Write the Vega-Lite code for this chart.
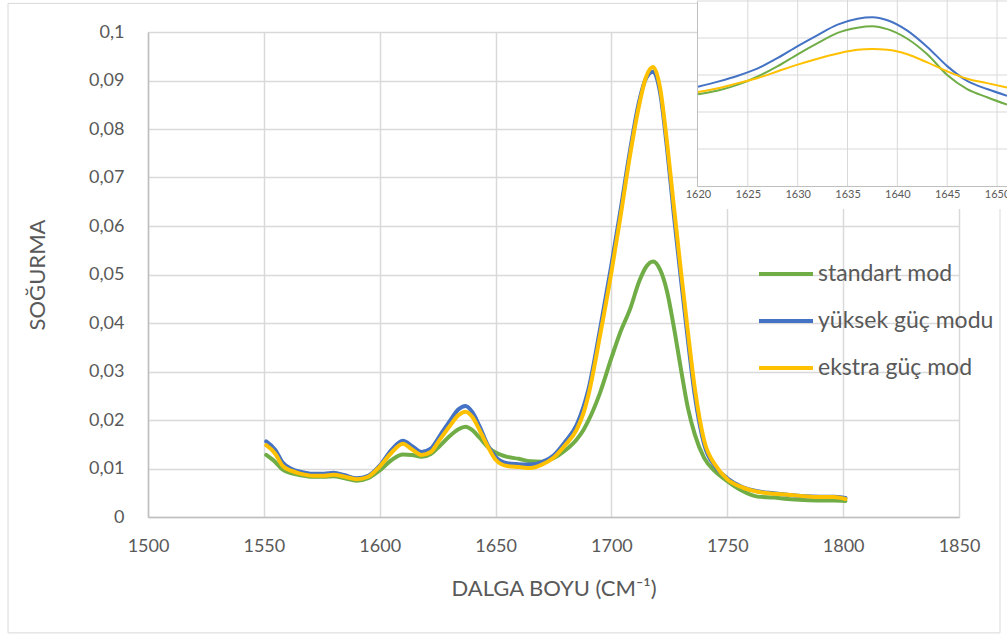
{
  "$schema": "https://vega.github.io/schema/vega-lite/v6.json",
  "width": 811,
  "height": 485,
  "autosize": "none",
  "padding": {"left": 148, "top": 32, "right": 48, "bottom": 120},
  "background": "white",
  "config": {
    "font": "Lato",
    "view": {"stroke": null},
    "axis": {"labelFont": "Lato", "titleFont": "Lato", "labelColor": "#595959", "titleColor": "#595959", "titleFontWeight": "normal"},
    "legend": {"labelFont": "Lato"}
  },
  "datasets": {
    "ana": [
      {"dalga": 1551, "standart mod": 0.0128, "yüksek güç modu": 0.0156, "ekstra güç mod": 0.0148},
      {"dalga": 1555, "standart mod": 0.0113, "yüksek güç modu": 0.0138, "ekstra güç mod": 0.0130},
      {"dalga": 1558, "standart mod": 0.0098, "yüksek güç modu": 0.0113, "ekstra güç mod": 0.0106},
      {"dalga": 1562, "standart mod": 0.0090, "yüksek güç modu": 0.0099, "ekstra güç mod": 0.0095},
      {"dalga": 1566, "standart mod": 0.0086, "yüksek güç modu": 0.0093, "ekstra güç mod": 0.0089},
      {"dalga": 1571, "standart mod": 0.0083, "yüksek güç modu": 0.0089, "ekstra güç mod": 0.0085},
      {"dalga": 1576, "standart mod": 0.0083, "yüksek güç modu": 0.0089, "ekstra güç mod": 0.0085},
      {"dalga": 1580, "standart mod": 0.0084, "yüksek güç modu": 0.0091, "ekstra güç mod": 0.0087},
      {"dalga": 1585, "standart mod": 0.0080, "yüksek güç modu": 0.0086, "ekstra güç mod": 0.0083},
      {"dalga": 1590, "standart mod": 0.0075, "yüksek güç modu": 0.0080, "ekstra güç mod": 0.0078},
      {"dalga": 1595, "standart mod": 0.0080, "yüksek güç modu": 0.0085, "ekstra güç mod": 0.0083},
      {"dalga": 1600, "standart mod": 0.0096, "yüksek güç modu": 0.0106, "ekstra güç mod": 0.0104},
      {"dalga": 1605, "standart mod": 0.0117, "yüksek güç modu": 0.0138, "ekstra güç mod": 0.0132},
      {"dalga": 1610, "standart mod": 0.0129, "yüksek güç modu": 0.0157, "ekstra güç mod": 0.0151},
      {"dalga": 1614, "standart mod": 0.0128, "yüksek güç modu": 0.0146, "ekstra güç mod": 0.0139},
      {"dalga": 1618, "standart mod": 0.0124, "yüksek güç modu": 0.0134, "ekstra güç mod": 0.0128},
      {"dalga": 1622, "standart mod": 0.0130, "yüksek güç modu": 0.0141, "ekstra güç mod": 0.0134},
      {"dalga": 1626, "standart mod": 0.0147, "yüksek güç modu": 0.0168, "ekstra güç mod": 0.0160},
      {"dalga": 1630, "standart mod": 0.0166, "yüksek güç modu": 0.0196, "ekstra güç mod": 0.0186},
      {"dalga": 1634, "standart mod": 0.0181, "yüksek güç modu": 0.0222, "ekstra güç mod": 0.0210},
      {"dalga": 1637, "standart mod": 0.0186, "yüksek güç modu": 0.0229, "ekstra güç mod": 0.0217},
      {"dalga": 1640, "standart mod": 0.0179, "yüksek güç modu": 0.0216, "ekstra güç mod": 0.0206},
      {"dalga": 1643, "standart mod": 0.0164, "yüksek güç modu": 0.0188, "ekstra güç mod": 0.0180},
      {"dalga": 1647, "standart mod": 0.0143, "yüksek güç modu": 0.0145, "ekstra güç mod": 0.0142},
      {"dalga": 1650, "standart mod": 0.0133, "yüksek güç modu": 0.0124, "ekstra güç mod": 0.0118},
      {"dalga": 1655, "standart mod": 0.0124, "yüksek güç modu": 0.0111, "ekstra güç mod": 0.0105},
      {"dalga": 1660, "standart mod": 0.0120, "yüksek güç modu": 0.0109, "ekstra güç mod": 0.0103},
      {"dalga": 1665, "standart mod": 0.0115, "yüksek güç modu": 0.0108, "ekstra güç mod": 0.0101},
      {"dalga": 1670, "standart mod": 0.0114, "yüksek güç modu": 0.0113, "ekstra güç mod": 0.0108},
      {"dalga": 1675, "standart mod": 0.0121, "yüksek güç modu": 0.0127, "ekstra güç mod": 0.0122},
      {"dalga": 1680, "standart mod": 0.0137, "yüksek güç modu": 0.0155, "ekstra güç mod": 0.0148},
      {"dalga": 1685, "standart mod": 0.0160, "yüksek güç modu": 0.0190, "ekstra güç mod": 0.0180},
      {"dalga": 1688, "standart mod": 0.0180, "yüksek güç modu": 0.0228, "ekstra güç mod": 0.0215},
      {"dalga": 1690, "standart mod": 0.0198, "yüksek güç modu": 0.0262, "ekstra güç mod": 0.0250},
      {"dalga": 1695, "standart mod": 0.0255, "yüksek güç modu": 0.0385, "ekstra güç mod": 0.0372},
      {"dalga": 1700, "standart mod": 0.0328, "yüksek güç modu": 0.0520, "ekstra güç mod": 0.0505},
      {"dalga": 1704, "standart mod": 0.0383, "yüksek güç modu": 0.0635, "ekstra güç mod": 0.0622},
      {"dalga": 1708, "standart mod": 0.0428, "yüksek güç modu": 0.0755, "ekstra güç mod": 0.0745},
      {"dalga": 1712, "standart mod": 0.0486, "yüksek güç modu": 0.0858, "ekstra güç mod": 0.0850},
      {"dalga": 1715, "standart mod": 0.0516, "yüksek güç modu": 0.0905, "ekstra güç mod": 0.0908},
      {"dalga": 1718, "standart mod": 0.0527, "yüksek güç modu": 0.0918, "ekstra güç mod": 0.0928},
      {"dalga": 1721, "standart mod": 0.0510, "yüksek güç modu": 0.0875, "ekstra güç mod": 0.0885},
      {"dalga": 1724, "standart mod": 0.0465, "yüksek güç modu": 0.0760, "ekstra güç mod": 0.0772},
      {"dalga": 1727, "standart mod": 0.0390, "yüksek güç modu": 0.0620, "ekstra güç mod": 0.0638},
      {"dalga": 1730, "standart mod": 0.0305, "yüksek güç modu": 0.0490, "ekstra güç mod": 0.0507},
      {"dalga": 1733, "standart mod": 0.0225, "yüksek güç modu": 0.0365, "ekstra güç mod": 0.0382},
      {"dalga": 1736, "standart mod": 0.0170, "yüksek güç modu": 0.0250, "ekstra güç mod": 0.0265},
      {"dalga": 1740, "standart mod": 0.0122, "yüksek güç modu": 0.0150, "ekstra güç mod": 0.0158},
      {"dalga": 1745, "standart mod": 0.0093, "yüksek güç modu": 0.0103, "ekstra güç mod": 0.0106},
      {"dalga": 1750, "standart mod": 0.0074, "yüksek güç modu": 0.0080, "ekstra güç mod": 0.0078},
      {"dalga": 1756, "standart mod": 0.0055, "yüksek güç modu": 0.0063, "ekstra güç mod": 0.0062},
      {"dalga": 1763, "standart mod": 0.0042, "yüksek güç modu": 0.0053, "ekstra güç mod": 0.0052},
      {"dalga": 1770, "standart mod": 0.0040, "yüksek güç modu": 0.0049, "ekstra güç mod": 0.0048},
      {"dalga": 1776, "standart mod": 0.0037, "yüksek güç modu": 0.0046, "ekstra güç mod": 0.0046},
      {"dalga": 1783, "standart mod": 0.0035, "yüksek güç modu": 0.0043, "ekstra güç mod": 0.0043},
      {"dalga": 1790, "standart mod": 0.0034, "yüksek güç modu": 0.0042, "ekstra güç mod": 0.0041},
      {"dalga": 1796, "standart mod": 0.0034, "yüksek güç modu": 0.0042, "ekstra güç mod": 0.0041},
      {"dalga": 1801, "standart mod": 0.0033, "yüksek güç modu": 0.0039, "ekstra güç mod": 0.0037}
    ],
    "ek": [
      {"dalga": 1620, "standart mod": 0.0124, "yüksek güç modu": 0.0134, "ekstra güç mod": 0.0127},
      {"dalga": 1622, "standart mod": 0.0129, "yüksek güç modu": 0.0141, "ekstra güç mod": 0.0132},
      {"dalga": 1624, "standart mod": 0.0137, "yüksek güç modu": 0.0149, "ekstra güç mod": 0.0139},
      {"dalga": 1626, "standart mod": 0.0148, "yüksek güç modu": 0.0159, "ekstra güç mod": 0.0146},
      {"dalga": 1628, "standart mod": 0.0162, "yüksek güç modu": 0.0173, "ekstra güç mod": 0.0155},
      {"dalga": 1630, "standart mod": 0.0178, "yüksek güç modu": 0.0189, "ekstra güç mod": 0.0164},
      {"dalga": 1632, "standart mod": 0.0193, "yüksek güç modu": 0.0204, "ekstra güç mod": 0.0172},
      {"dalga": 1634, "standart mod": 0.0207, "yüksek güç modu": 0.0218, "ekstra güç mod": 0.0179},
      {"dalga": 1636, "standart mod": 0.0214, "yüksek güç modu": 0.0226, "ekstra güç mod": 0.0184},
      {"dalga": 1637.5, "standart mod": 0.0216, "yüksek güç modu": 0.0228, "ekstra güç mod": 0.0185},
      {"dalga": 1639, "standart mod": 0.0212, "yüksek güç modu": 0.0224, "ekstra güç mod": 0.0184},
      {"dalga": 1641, "standart mod": 0.0199, "yüksek güç modu": 0.0210, "ekstra güç mod": 0.0178},
      {"dalga": 1643, "standart mod": 0.0178, "yüksek güç modu": 0.0188, "ekstra güç mod": 0.0167},
      {"dalga": 1645, "standart mod": 0.0150, "yüksek güç modu": 0.0162, "ekstra güç mod": 0.0155},
      {"dalga": 1647, "standart mod": 0.0131, "yüksek güç modu": 0.0142, "ekstra güç mod": 0.0145},
      {"dalga": 1649, "standart mod": 0.0120, "yüksek güç modu": 0.0131, "ekstra güç mod": 0.0139},
      {"dalga": 1651, "standart mod": 0.0110, "yüksek güç modu": 0.0122, "ekstra güç mod": 0.0133}
    ]
  },
  "layer": [
    {
      "layer": [
        {
          "data": {"name": "ana"},
          "transform": [{"fold": ["standart mod", "yüksek güç modu", "ekstra güç mod"], "as": ["seri", "deger"]}],
          "mark": {"type": "line", "interpolate": "monotone", "strokeWidth": 4, "strokeCap": "round", "strokeJoin": "round"},
          "encoding": {
            "x": {
              "field": "dalga", "type": "quantitative",
              "scale": {"domain": [1500, 1850], "nice": false, "zero": false},
              "axis": {
                "values": [1500, 1550, 1600, 1650, 1700, 1750, 1800, 1850],
                "format": "d", "labelFlush": false, "labelOverlap": false,
                "grid": true, "gridColor": "#d9d9d9", "gridWidth": 1.5,
                "domainColor": "#bfbfbf", "domainWidth": 1.5, "ticks": false,
                "labelFontSize": 18, "labelPadding": 20,
                "title": "DALGA BOYU (CM⁻¹)", "titleFontSize": 22, "titlePadding": 23
              }
            },
            "y": {
              "field": "deger", "type": "quantitative",
              "scale": {"domain": [0, 0.1], "nice": false},
              "axis": {
                "values": [0, 0.01, 0.02, 0.03, 0.04, 0.05, 0.06, 0.07, 0.08, 0.09, 0.1],
                "labelExpr": "replace(format(datum.value, '~g'), '.', ',')",
                "grid": true, "gridColor": "#d9d9d9", "gridWidth": 1.5,
                "domainColor": "#bfbfbf", "domainWidth": 1.5, "ticks": false,
                "labelFontSize": 18, "labelPadding": 24, "labelOverlap": false,
                "title": "SOĞURMA", "titleFontSize": 22, "titlePadding": 39
              }
            },
            "color": {
              "field": "seri", "type": "nominal",
              "scale": {"domain": ["standart mod", "yüksek güç modu", "ekstra güç mod"], "range": ["#70AD47", "#4472C4", "#FFC000"]},
              "legend": {
                "orient": "none", "legendX": 609, "legendY": 213, "title": null, "padding": 0,
                "symbolType": "stroke", "symbolSize": 2916, "symbolStrokeWidth": 4,
                "labelFontSize": 23, "labelColor": "#595959", "labelOffset": 3, "rowPadding": 6, "labelLimit": 0
              }
            }
          }
        },
        {
          "data": {"values": [{}]},
          "mark": {"type": "rect", "filled": false, "stroke": "#d9d9d9", "strokeWidth": 1},
          "encoding": {
            "x": {"datum": 1439.6, "type": "quantitative"},
            "x2": {"datum": 1867.7},
            "y": {"datum": -0.0239, "type": "quantitative"},
            "y2": {"datum": 0.1059}
          }
        }
      ]
    },
    {
      "layer": [
        {
          "data": {"values": [{}]},
          "mark": {"type": "rect", "fill": "white"},
          "encoding": {
            "x": {"datum": 1619.9, "type": "quantitative"},
            "x2": {"datum": 1651.2},
            "y": {"datum": -0.0031, "type": "quantitative"},
            "y2": {"datum": 0.0252}
          }
        },
        {
          "data": {"values": [{"v": 1625}, {"v": 1630}, {"v": 1635}, {"v": 1640}, {"v": 1645}, {"v": 1650}]},
          "mark": {"type": "rule", "stroke": "#d9d9d9", "strokeWidth": 1},
          "encoding": {
            "x": {"field": "v", "type": "quantitative"},
            "y": {"datum": 0, "type": "quantitative"},
            "y2": {"datum": 0.0252}
          }
        },
        {
          "data": {"values": [{"h": 0.005}, {"h": 0.01}, {"h": 0.015}, {"h": 0.02}, {"h": 0.025}]},
          "mark": {"type": "rule", "stroke": "#d9d9d9", "strokeWidth": 1},
          "encoding": {
            "y": {"field": "h", "type": "quantitative"},
            "x": {"datum": 1619.9, "type": "quantitative"},
            "x2": {"datum": 1651.2}
          }
        },
        {
          "data": {"name": "ek"},
          "transform": [{"fold": ["standart mod", "yüksek güç modu", "ekstra güç mod"], "as": ["seri", "deger"]}],
          "mark": {"type": "line", "interpolate": "monotone", "strokeWidth": 2},
          "encoding": {
            "x": {
              "field": "dalga", "type": "quantitative",
              "scale": {"domain": [1619.9, 1651.0], "range": [549, 859], "nice": false, "zero": false},
              "axis": {
                "orient": "bottom", "offset": -331, "zindex": 1,
                "values": [1620, 1625, 1630, 1635, 1640, 1645, 1650],
                "format": "d", "labelFlush": false, "labelOverlap": false,
                "grid": false,
                "domainColor": "#bfbfbf", "domainWidth": 1, "ticks": false,
                "labelFontSize": 11, "labelPadding": 2, "title": null
              }
            },
            "y": {
              "field": "deger", "type": "quantitative",
              "scale": {"domain": [0, 0.025], "range": [154, -31], "nice": false},
              "axis": {
                "orient": "left", "offset": -549, "zindex": 1,
                "values": [0, 0.005, 0.01, 0.015, 0.02, 0.025],
                "labels": false, "ticks": false, "grid": false,
                "domainColor": "#bfbfbf", "domainWidth": 1, "title": null
              }
            },
            "color": {
              "field": "seri", "type": "nominal",
              "scale": {"domain": ["standart mod", "yüksek güç modu", "ekstra güç mod"], "range": ["#70AD47", "#4472C4", "#FFC000"]},
              "legend": null
            }
          }
        }
      ]
    }
  ],
  "resolve": {
    "scale": {"x": "independent", "y": "independent", "color": "independent"},
    "axis": {"x": "independent", "y": "independent"},
    "legend": {"color": "independent"}
  }
}
